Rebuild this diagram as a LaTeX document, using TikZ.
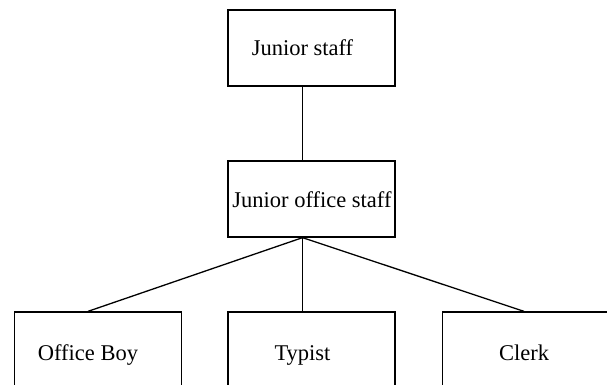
\documentclass[tikz,border=0pt]{standalone}
\usepackage{fontspec}
\setmainfont{Liberation Serif}
\usetikzlibrary{positioning,calc}
\tikzset{BOX/.style={rectangle,draw,line width=1.3pt,minimum width=167pt,inner sep=0pt}}
\tikzset{LABEL/.style={anchor=base,inner sep=0pt,font=\fontsize{22.5}{26}\selectfont}}
\tikzset{LINK/.style={line width=1.3pt}}

\begin{document}
\begin{tikzpicture}[x=1pt,y=-1pt]

\useasboundingbox (0,0) rectangle (607,385);
\clip (0,0) rectangle (607,385);

% upper levels
\node[BOX, minimum height=76pt] (n_junior) at (311.5,48) {};
\node[LABEL] (t_junior) at (302.5,56) {Junior staff};

\node[BOX, minimum height=76pt] (n_office) at (311.5,199) {};
\node[LABEL] (t_office) at (312,207) {Junior office staff};

% bottom level, cut off by the page edge
\node[BOX, minimum height=78pt] (n_boy) at (98,351) {};
\node[LABEL] (t_boy) at (88,360) {Office Boy};

\node[BOX, minimum height=78pt] (n_typist) at (311.5,351) {};
\node[LABEL] (t_typist) at (302.5,360) {Typist};

\node[BOX, minimum height=78pt] (n_clerk) at (526,351) {};
\node[LABEL] (t_clerk) at (524,360) {Clerk};

\draw[LINK] (n_junior.south -| t_junior) -- (n_office.north -| t_junior);

\coordinate (c_hub) at (n_office.south -| t_typist);
\draw[LINK] (c_hub) -- (n_boy.north -| t_boy);
\draw[LINK] (c_hub) -- (n_typist.north -| t_typist);
\draw[LINK] (c_hub) -- (n_clerk.north -| t_clerk);

\end{tikzpicture}
\end{document}
